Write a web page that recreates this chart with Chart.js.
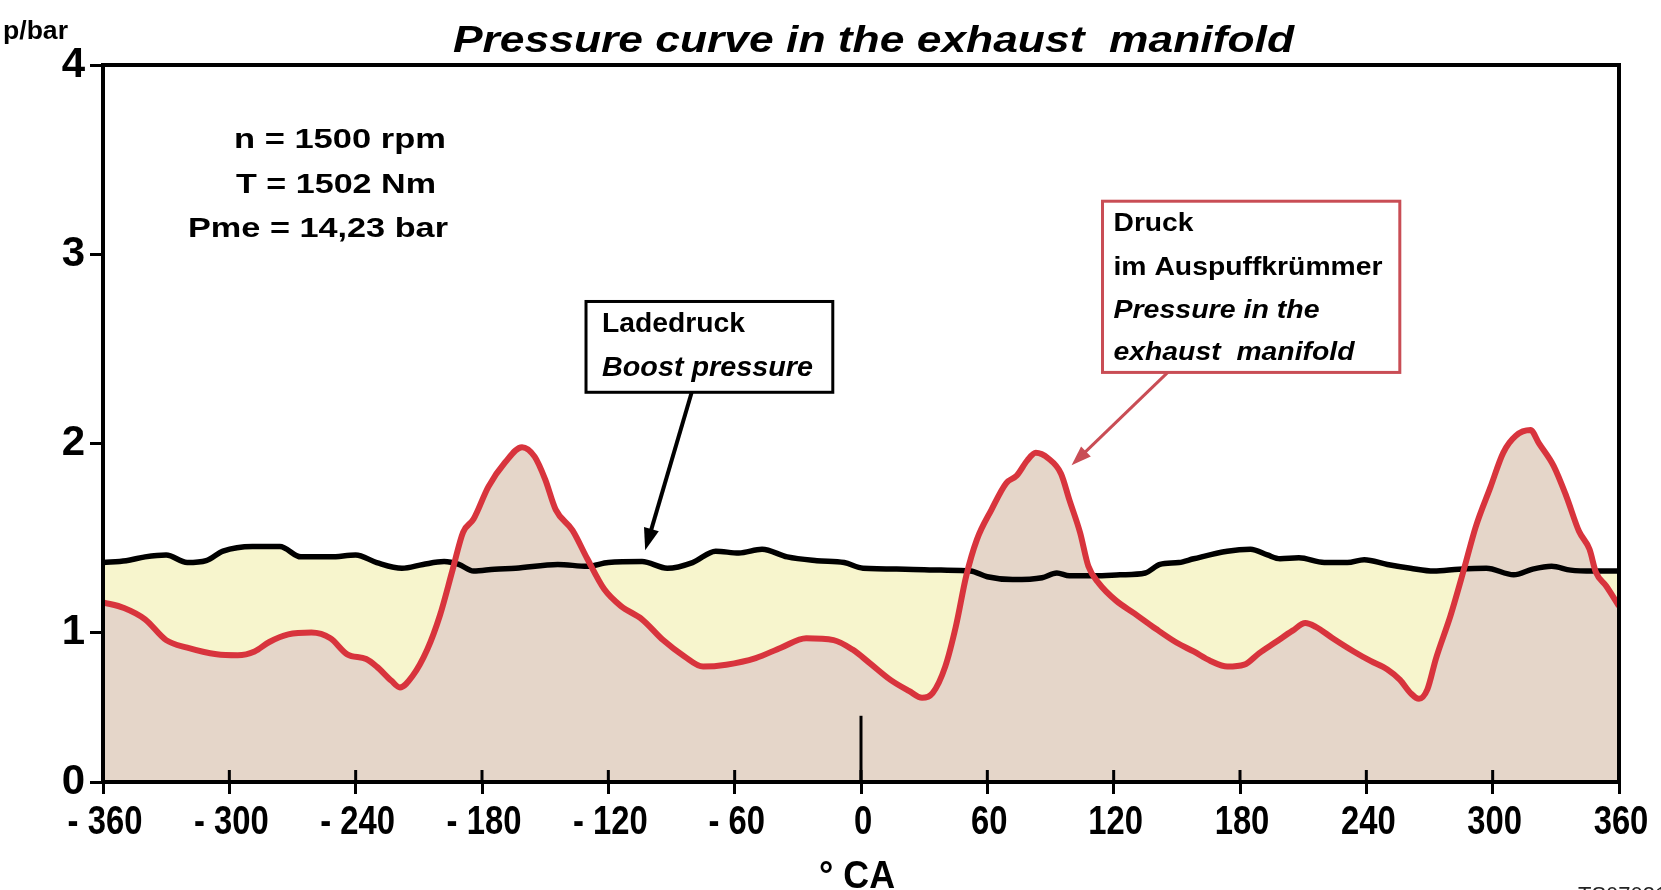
<!DOCTYPE html>
<html>
<head>
<meta charset="utf-8">
<title>Pressure curve in the exhaust manifold</title>
<script src="https://cdn.jsdelivr.net/npm/chart.js@4.4.1/dist/chart.umd.min.js"></script>
<style>
  body { margin: 0; background: #fff; }
  #wrap { width: 1661px; height: 890px; }
</style>
</head>
<body>
<div id="wrap"><canvas id="pressChart" width="1661" height="890"></canvas></div>
<script>
// crank angle in ° CA, pressure in bar

var exhaustAngle = [-360, -350, -340, -330, -320, -306, -296, -288, -281, -272, -261, -252, -244, -235, -230,
  -223, -219, -213, -206, -200, -194, -189, -184, -177, -169, -161, -155, -150, -145, -137, -130, -122, -114,
  -104, -94, -84, -75, -64, -50, -38, -26, -13, -4, 4, 14, 23, 29, 34, 40, 45, 50, 55, 62, 69, 74, 79, 83, 89,
  95, 99, 104, 108, 113, 121, 130, 140, 150, 158, 166, 174, 182, 189, 197, 205, 211, 216, 224, 234, 242, 250,
  256, 261, 265, 269, 273, 280, 286, 292, 299, 305, 311, 318, 322, 329, 335, 341, 346, 349, 354, 360]
var exhaustPressure = [1.16, 1.13, 1.07, 0.96, 0.92, 0.885, 0.88, 0.90, 0.95, 0.99, 1.0, 0.97, 0.885, 0.86, 0.82,
  0.745, 0.71, 0.77, 0.91, 1.09, 1.33, 1.53, 1.60, 1.77, 1.90, 1.98, 1.93, 1.81, 1.65, 1.54, 1.39, 1.23, 1.14,
  1.07, 0.96, 0.875, 0.82, 0.83, 0.865, 0.92, 0.97, 0.96, 0.91, 0.84, 0.75, 0.69, 0.655, 0.68, 0.82, 1.03, 1.30,
  1.49, 1.65, 1.79, 1.83, 1.91, 1.95, 1.92, 1.84, 1.70, 1.53, 1.35, 1.26, 1.17, 1.10, 1.02, 0.946, 0.90, 0.85,
  0.82, 0.83, 0.89, 0.95, 1.01, 1.05, 1.03, 0.97, 0.90, 0.85, 0.805, 0.75, 0.68, 0.65, 0.70, 0.86, 1.09, 1.32,
  1.56, 1.77, 1.95, 2.04, 2.07, 2.0, 1.88, 1.72, 1.535, 1.44, 1.32, 1.245, 1.14]

var boostAngle = [-360, -349, -340, -330, -320, -311, -303, -289, -276, -266, -252, -240, -230, -218, -208, -198,
  -191, -184, -174, -164, -144, -130, -120, -104, -92, -80, -69, -58, -47, -35, -21, -8, 1, 21, 38, 52, 60, 72,
  86, 93, 99, 111, 123, 135, 142, 151, 158, 174, 185, 193, 199, 208, 220, 231, 239, 250, 261, 272, 284, 297,
  310, 319, 328, 337, 348, 360]
var boostPressure = [1.37, 1.38, 1.40, 1.41, 1.37, 1.38, 1.43, 1.455, 1.455, 1.40, 1.40, 1.41, 1.37, 1.34, 1.36,
  1.375, 1.36, 1.325, 1.335, 1.34, 1.36, 1.35, 1.37, 1.375, 1.34, 1.37, 1.43, 1.42, 1.44, 1.40, 1.38, 1.37, 1.34,
  1.335, 1.33, 1.325, 1.295, 1.28, 1.29, 1.315, 1.30, 1.30, 1.305, 1.315, 1.36, 1.37, 1.39, 1.43, 1.44, 1.41,
  1.39, 1.395, 1.37, 1.37, 1.385, 1.36, 1.34, 1.325, 1.335, 1.34, 1.305, 1.335, 1.35, 1.33, 1.325, 1.325]

var angleTicks = [-360, -300, -240, -180, -120, -60, 0, 60, 120, 180, 240, 300, 360]
var pressureTicks = [1, 2, 3, 4]
var pressureFloor = 0.21   // bottom edge of the plot, labelled 0
var tdcMarkTop = 0.56      // short stroke at 0 ° CA

var opPoint = ['n = 1500 rpm', 'T = 1502 Nm', 'Pme = 14,23 bar']
var boostNote = ['Ladedruck', 'Boost pressure']
var exhaustNote = ['Druck', 'im Auspuffkrümmer', 'Pressure in the', 'exhaust  manifold']

var SANS = '"Liberation Sans", Arial, Helvetica, sans-serif'
var RED = '#d8343d'
var NOTE_RED = '#c94d55'

function toPoints(xs, ys) {
  return xs.map(function (x, i) { return { x: x, y: ys[i] } })
}

function angleLabel(v) {
  return v < 0 ? '- ' + (-v) : String(v)
}

// text squeezed or widened horizontally, by a target width or a factor
function fitText(ctx, text, x, y, font, width, factor) {
  ctx.font = font
  var natural = ctx.measureText(text).width
  var k = width ? width / natural : (factor || 1)
  ctx.save()
  ctx.translate(x, y)
  ctx.scale(k, 1)
  ctx.fillText(text, 0, 0)
  ctx.restore()
}

function arrow(ctx, x1, y1, x2, y2, color, width, head) {
  var a = Math.atan2(y2 - y1, x2 - x1)
  var c = Math.cos(a), s = Math.sin(a)
  ctx.strokeStyle = color
  ctx.fillStyle = color
  ctx.lineWidth = width
  ctx.beginPath()
  ctx.moveTo(x1, y1)
  ctx.lineTo(x2 - c * head * 0.8, y2 - s * head * 0.8)
  ctx.stroke()
  ctx.beginPath()
  ctx.moveTo(x2, y2)
  ctx.lineTo(x2 - head * c + head * 0.35 * s, y2 - head * s - head * 0.35 * c)
  ctx.lineTo(x2 - head * c - head * 0.35 * s, y2 - head * s + head * 0.35 * c)
  ctx.closePath()
  ctx.fill()
}

var notes = {
  id: 'notes',
  afterDraw: function (chart) {
    var ctx = chart.ctx
    var area = chart.chartArea
    var xs = chart.scales.x
    var ys = chart.scales.y
    ctx.save()

    // frame round the plot
    ctx.strokeStyle = '#000'
    ctx.lineWidth = 4
    ctx.strokeRect(area.left, area.top, area.right - area.left, area.bottom - area.top)

    // x ticks also reach into the plot, labels in a narrow face
    ctx.lineWidth = 3
    ctx.fillStyle = '#000'
    ctx.textAlign = 'center'
    ctx.textBaseline = 'alphabetic'
    angleTicks.forEach(function (v) {
      var px = xs.getPixelForValue(v)
      ctx.beginPath()
      ctx.moveTo(px, area.bottom)
      ctx.lineTo(px, area.bottom - 12)
      ctx.stroke()
      fitText(ctx, angleLabel(v), px + 2, area.bottom + 52, 'bold 41px ' + SANS, null, 0.8)
    })
    fitText(ctx, '° CA', 857, 888, 'bold 39px ' + SANS, 76)

    ctx.textAlign = 'left'
    fitText(ctx, 'p/bar', 3, 39, 'bold 25px ' + SANS, 65)
    fitText(ctx, 'Pressure curve in the exhaust  manifold', 453, 52, 'italic bold 36px ' + SANS, 841)

    fitText(ctx, opPoint[0], 234, 148, 'bold 28px ' + SANS, 212)
    fitText(ctx, opPoint[1], 236, 193, 'bold 28px ' + SANS, 200)
    fitText(ctx, opPoint[2], 188, 237, 'bold 28px ' + SANS, 260)

    // Ladedruck box and arrow
    var bx1 = xs.getPixelForValue(-130.6), bx2 = xs.getPixelForValue(-13.4)
    var by1 = ys.getPixelForValue(2.75), by2 = ys.getPixelForValue(2.27)
    ctx.fillStyle = '#fff'
    ctx.fillRect(bx1, by1, bx2 - bx1, by2 - by1)
    ctx.strokeStyle = '#000'
    ctx.lineWidth = 3
    ctx.strokeRect(bx1, by1, bx2 - bx1, by2 - by1)
    ctx.fillStyle = '#000'
    fitText(ctx, boostNote[0], bx1 + 16, by1 + 31, 'bold 27px ' + SANS, 143)
    fitText(ctx, boostNote[1], bx1 + 16, by1 + 75, 'italic bold 27px ' + SANS, 211)
    arrow(ctx, xs.getPixelForValue(-80.4), by2, xs.getPixelForValue(-102.5), ys.getPixelForValue(1.435), '#000', 4, 22)

    // Druck box and arrow
    var rx1 = xs.getPixelForValue(114.7), rx2 = xs.getPixelForValue(255.9)
    var ry1 = ys.getPixelForValue(3.28), ry2 = ys.getPixelForValue(2.375)
    ctx.fillStyle = '#fff'
    ctx.fillRect(rx1, ry1, rx2 - rx1, ry2 - ry1)
    ctx.strokeStyle = NOTE_RED
    ctx.lineWidth = 3
    ctx.strokeRect(rx1, ry1, rx2 - rx1, ry2 - ry1)
    ctx.fillStyle = '#000'
    fitText(ctx, exhaustNote[0], rx1 + 11, ry1 + 30, 'bold 26px ' + SANS, 80)
    fitText(ctx, exhaustNote[1], rx1 + 11, ry1 + 74, 'bold 26px ' + SANS, 269)
    fitText(ctx, exhaustNote[2], rx1 + 11, ry1 + 117, 'italic bold 26px ' + SANS, 206)
    fitText(ctx, exhaustNote[3], rx1 + 11, ry1 + 159, 'italic bold 26px ' + SANS, 241)
    arrow(ctx, xs.getPixelForValue(145.7), ry2, xs.getPixelForValue(100), ys.getPixelForValue(1.884), NOTE_RED, 3, 20)

    ctx.fillStyle = '#222'
    fitText(ctx, 'TS070316', 1578, 902, '22px ' + SANS)
    ctx.restore()
  }
}

var chart = new Chart(document.getElementById('pressChart').getContext('2d'), {
  type: 'line',
  data: {
    datasets: [
      {
        label: 'Druck im Auspuffkrümmer',
        data: toPoints(exhaustAngle, exhaustPressure),
        borderColor: RED,
        borderWidth: 6,
        backgroundColor: '#e5d6c9',
        fill: 'start',
        pointRadius: 0,
        cubicInterpolationMode: 'monotone'
      },
      {
        label: 'Ladedruck',
        data: toPoints(boostAngle, boostPressure),
        borderColor: '#000',
        borderWidth: 5.5,
        fill: { target: 0, above: '#f7f5cd', below: 'rgba(0,0,0,0)' },
        pointRadius: 0,
        cubicInterpolationMode: 'monotone'
      },
      {
        label: 'OT',
        data: toPoints([0, 0], [pressureFloor, tdcMarkTop]),
        borderColor: '#000',
        borderWidth: 3,
        fill: false,
        pointRadius: 0
      }
    ]
  },
  options: {
    responsive: false,
    animation: false,
    layout: { padding: { top: 65, right: 42, left: 0, bottom: 0 } },
    plugins: {
      legend: { display: false },
      tooltip: { enabled: false },
      filler: { drawTime: 'beforeDatasetsDraw' }
    },
    scales: {
      x: {
        type: 'linear',
        min: -360,
        max: 360,
        afterBuildTicks: function (s) { s.ticks = angleTicks.map(function (v) { return { value: v } }) },
        afterFit: function (s) { s.height = 108 },
        border: { display: false },
        grid: { drawOnChartArea: false, tickLength: 12, lineWidth: 3, color: '#000' },
        ticks: { display: false }
      },
      y: {
        min: pressureFloor,
        max: 4,
        afterBuildTicks: function (s) {
          s.ticks = [pressureFloor].concat(pressureTicks).map(function (v) { return { value: v } })
        },
        afterFit: function (s) { s.width = 103 },
        border: { display: false },
        grid: { drawOnChartArea: false, tickLength: 13, lineWidth: 3, color: '#000' },
        ticks: {
          color: '#000',
          padding: 5,
          font: { family: SANS, size: 42, weight: 'bold', lineHeight: 1 },
          callback: function (v) { return v === pressureFloor ? '0' : String(v) }
        }
      }
    }
  },
  plugins: [notes]
})
</script>
</body>
</html>
